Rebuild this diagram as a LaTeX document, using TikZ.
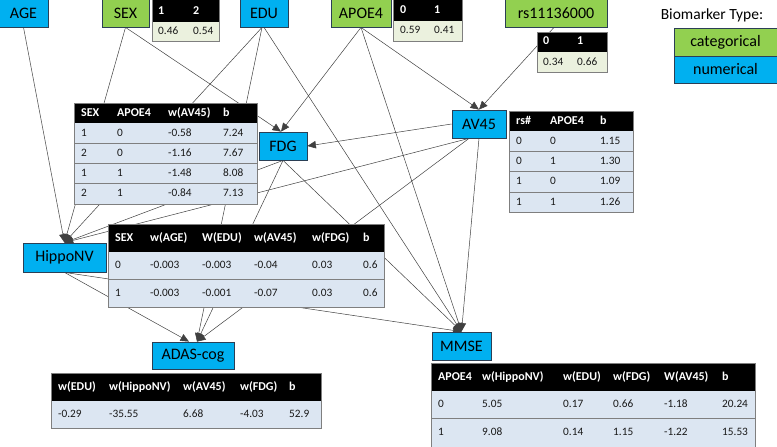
\documentclass[tikz,border=0pt]{standalone}
\usepackage{fontspec}
\setmainfont{Carlito}
\usetikzlibrary{arrows.meta}
\definecolor{nblue}{HTML}{00B0F0}
\definecolor{ngreen}{HTML}{92D050}
\definecolor{rowblue}{HTML}{DCE6F2}
\definecolor{rowgreen}{HTML}{EBF1DE}
\definecolor{sepgray}{HTML}{7F7F7F}
\definecolor{edgegray}{HTML}{404040}
\definecolor{bordc}{HTML}{2B3F55}
\pgfdeclarelayer{edgelayer}
\pgfdeclarelayer{tablelayer}
\pgfsetlayers{edgelayer,tablelayer,main}
\tikzset{
  vbox/.style={draw=bordc, line width=0.8pt, inner sep=0pt, font=\fontsize{16}{18}\selectfont, text=black},
  numv/.style={vbox, fill=nblue},
  catv/.style={vbox, fill=ngreen},
  edge/.style={draw=edgegray, line width=0.5pt, -{Triangle[length=8.5pt,width=7.5pt]}},
  th/.style={anchor=west, inner sep=0pt, text height=8pt, text depth=2pt, font=\fontsize{12}{14}\selectfont\bfseries, text=white},
  td/.style={anchor=west, inner sep=0pt, text height=8pt, text depth=2pt, font=\fontsize{11.3}{13}\selectfont, text=black!90},
  tframe/.style={draw=sepgray, line width=0.8pt},
  tsep/.style={draw=sepgray, line width=0.8pt},
}
\begin{document}
\begin{tikzpicture}[x=1pt,y=-1pt]
\useasboundingbox (0,0) rectangle (777,447);
% ---------- variable nodes ----------
\node[numv, minimum width=49pt, minimum height=28pt] (AGE) at (23.5,13) {AGE};
\node[catv, minimum width=47pt, minimum height=28pt] (SEX) at (125.5,13) {SEX};
\node[numv, minimum width=48pt, minimum height=28pt] (EDU) at (264,13) {EDU};
\node[catv, minimum width=60pt, minimum height=28pt] (APOE4) at (361,13) {APOE4};
\node[catv, minimum width=102pt, minimum height=28pt] (RS) at (556,13) {rs11136000};
\node[numv, minimum width=48pt, minimum height=28pt] (FDG) at (283,146) {FDG};
\node[numv, minimum width=54pt, minimum height=28pt] (AV45) at (479,124) {AV45};
\node[numv, minimum width=83pt, minimum height=29pt] (HIPPO) at (64.5,257.5) {HippoNV};
\node[numv, minimum width=82pt, minimum height=27pt] (ADAS) at (193,355.5) {ADAS-cog};
\node[numv, minimum width=59pt, minimum height=28pt] (MMSE) at (461.5,346) {MMSE};
% legend
\node[inner sep=0pt, font=\fontsize{15.5}{18}\selectfont] (legtitle) at (712,15) {Biomarker Type:};
\node[catv, minimum width=103pt, minimum height=28pt] (legcat) at (725.5,42) {categorical};
\node[numv, minimum width=103pt, minimum height=27pt] (legnum) at (725.5,69.5) {numerical};
% ---------- edges ----------
\begin{pgfonlayer}{edgelayer}
\draw[edge] (AGE.south) -- (HIPPO.north);
\draw[edge] (SEX.south) -- (HIPPO.north);
\draw[edge] (SEX.south) -- ([xshift=-2pt]FDG.north);
\draw[edge] ([xshift=-2pt]EDU.south) -- (HIPPO.north);
\draw[edge] ([xshift=-2pt]EDU.south) -- ([xshift=4pt]ADAS.north);
\draw[edge] (EDU.south) -- (MMSE.north);
\draw[edge] (APOE4.south) -- ([xshift=-2pt]FDG.north);
\draw[edge] (APOE4.south) -- (AV45.north);
\draw[edge] (APOE4.south) -- (MMSE.north);
\draw[edge] ([xshift=-2pt]RS.south) -- (AV45.north);
\draw[edge] (AV45.west) -- (FDG.east);
\draw[edge] ([xshift=-10pt]AV45.south) -- (HIPPO.north);
\draw[edge] ([xshift=-10pt]AV45.south) -- ([xshift=4pt]ADAS.north);
\draw[edge] (AV45.south) -- (MMSE.north);
\draw[edge] (FDG.south) -- (HIPPO.north);
\draw[edge] (FDG.south) -- ([xshift=4pt]ADAS.north);
\draw[edge] (FDG.south) -- (MMSE.north);
\draw[edge] (HIPPO.south) -- ([xshift=-4pt]ADAS.north);
\draw[edge] (HIPPO.south) -- (MMSE.north);
\end{pgfonlayer}
% ---------- tables ----------
\begin{pgfonlayer}{tablelayer}
% SEX prior
\fill[rowgreen] (152,22) rectangle (219,41);
\fill[black] (152,-1) rectangle (219,22);
\draw[tframe] (152,-1) rectangle (219,41);
\node[th] (sexT-h1) at (158,11) {1};
\node[th] (sexT-h2) at (193,11) {2};
\node[td] (sexT-1) at (158,31.5) {0.46};
\node[td] (sexT-2) at (193,31.5) {0.54};
% APOE4 prior
\fill[rowgreen] (393,21) rectangle (462,41);
\fill[black] (393,-1) rectangle (462,21);
\draw[tframe] (393,-1) rectangle (462,41);
\node[th] (apoT-h1) at (400,10.5) {0};
\node[th] (apoT-h2) at (434,10.5) {1};
\node[td] (apoT-1) at (400,31) {0.59};
\node[td] (apoT-2) at (434,31) {0.41};
% rs prior
\fill[rowgreen] (537,52) rectangle (607,72);
\fill[black] (537,32) rectangle (607,52);
\draw[tframe] (537,32) rectangle (607,72);
\node[th] (rsT-h1) at (543,42) {0};
\node[th] (rsT-h2) at (577,42) {1};
\node[td] (rsT-1) at (543,62) {0.34};
\node[td] (rsT-2) at (577,62) {0.66};
% FDG table
\fill[rowblue] (74,123) rectangle (257,204);
\fill[black] (74,103) rectangle (257,123);
\foreach \yy in {143,163,183} \draw[tsep] (74,\yy) -- (257,\yy);
\draw[tframe] (74,103) rectangle (257,204);
\foreach \t/\xx [count=\k] in {SEX/81,APOE4/117,w(AV45)/168,b/223}
  \node[th] (fdgT-h\k) at (\xx,113) {\t};
\foreach \va/\vb/\vc/\vd/\yy [count=\r] in {1/0/-0.58/7.24/133,2/0/-1.16/7.67/153,1/1/-1.48/8.08/173,2/1/-0.84/7.13/193.5} {
  \node[td] (fdgT-\r-1) at (81,\yy) {\va};
  \node[td] (fdgT-\r-2) at (117,\yy) {\vb};
  \node[td] (fdgT-\r-3) at (168,\yy) {\vc};
  \node[td] (fdgT-\r-4) at (223,\yy) {\vd};
}
% AV45 table
\fill[rowblue] (509,131) rectangle (633,212);
\fill[black] (509,111) rectangle (633,131);
\foreach \yy in {151,171,192} \draw[tsep] (509,\yy) -- (633,\yy);
\draw[tframe] (509,111) rectangle (633,212);
\foreach \t/\xx [count=\k] in {rs\#/516,APOE4/550,b/600}
  \node[th] (avT-h\k) at (\xx,121) {\t};
\foreach \va/\vb/\vc/\yy [count=\r] in {0/0/1.15/141,0/1/1.30/161,1/0/1.09/181.5,1/1/1.26/202} {
  \node[td] (avT-\r-1) at (516,\yy) {\va};
  \node[td] (avT-\r-2) at (550,\yy) {\vb};
  \node[td] (avT-\r-3) at (600,\yy) {\vc};
}
% HippoNV table
\fill[rowblue] (108,252) rectangle (384,307);
\fill[black] (108,224) rectangle (384,252);
\draw[tsep] (108,279) -- (384,279);
\draw[tframe] (108,224) rectangle (384,307);
\foreach \t/\xx [count=\k] in {SEX/115,w(AGE)/150,W(EDU)/202,w(AV45)/254,w(FDG)/312,b/363}
  \node[th] (hipT-h\k) at (\xx,238) {\t};
\foreach \va/\vb/\vc/\vd/\ve/\vf/\yy [count=\r] in {0/-0.003/-0.003/-0.04/0.03/0.6/265.5,1/-0.003/-0.001/-0.07/0.03/0.6/293} {
  \node[td] (hipT-\r-1) at (115,\yy) {\va};
  \node[td] (hipT-\r-2) at (150,\yy) {\vb};
  \node[td] (hipT-\r-3) at (202,\yy) {\vc};
  \node[td] (hipT-\r-4) at (254,\yy) {\vd};
  \node[td] (hipT-\r-5) at (312,\yy) {\ve};
  \node[td] (hipT-\r-6) at (363,\yy) {\vf};
}
% ADAS table
\fill[rowblue] (51,401) rectangle (321,428);
\fill[black] (51,373) rectangle (321,401);
\draw[tframe] (51,373) rectangle (321,428);
\foreach \t/\xx [count=\k] in {w(EDU)/58,w(HippoNV)/109,w(AV45)/183,w(FDG)/240,b/289}
  \node[th] (adT-h\k) at (\xx,387) {\t};
\foreach \t/\xx [count=\k] in {-0.29/58,-35.55/109,6.68/183,-4.03/240,52.9/289}
  \node[td] (adT-1-\k) at (\xx,414.5) {\t};
% MMSE table
\fill[rowblue] (431,391) rectangle (755,447);
\fill[black] (431,363) rectangle (755,391);
\draw[tsep] (431,418) -- (755,418);
\draw[tframe] (431,363) rectangle (755,447);
\foreach \t/\xx [count=\k] in {APOE4/438,w(HippoNV)/482,w(EDU)/563,w(FDG)/613,W(AV45)/664,b/722}
  \node[th] (mmT-h\k) at (\xx,377) {\t};
\foreach \va/\vb/\vc/\vd/\ve/\vf/\yy [count=\r] in {0/5.05/0.17/0.66/-1.18/20.24/404.5,1/9.08/0.14/1.15/-1.22/15.53/432.5} {
  \node[td] (mmT-\r-1) at (438,\yy) {\va};
  \node[td] (mmT-\r-2) at (482,\yy) {\vb};
  \node[td] (mmT-\r-3) at (563,\yy) {\vc};
  \node[td] (mmT-\r-4) at (613,\yy) {\vd};
  \node[td] (mmT-\r-5) at (664,\yy) {\ve};
  \node[td] (mmT-\r-6) at (722,\yy) {\vf};
}
\end{pgfonlayer}
\end{tikzpicture}
\end{document}
